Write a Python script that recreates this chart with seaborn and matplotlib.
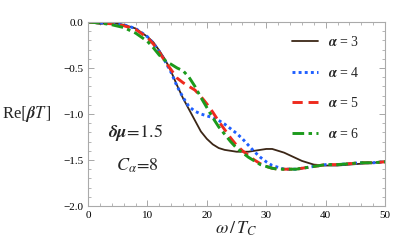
import numpy as np
import pandas as pd
import matplotlib
matplotlib.use("Agg")
import matplotlib.pyplot as plt
import seaborn as sns
from matplotlib.ticker import MultipleLocator

# values
omega = [0, 2, 4, 6, 8, 10, 11, 12, 13, 14, 15, 16, 17, 18, 19, 20, 21, 22, 23, 24,
         25, 26, 27, 28, 29, 30, 31, 32, 33, 34, 35, 36, 38, 40, 42, 44, 46, 48, 50]

re_a3 = [0.0, -0.02, -0.01, -0.03, -0.07, -0.16, -0.22, -0.31, -0.41, -0.54, -0.69, -0.83,
         -0.95, -1.07, -1.19, -1.27, -1.33, -1.37, -1.39, -1.40, -1.41, -1.41, -1.41, -1.40,
         -1.39, -1.38, -1.38, -1.40, -1.42, -1.45, -1.48, -1.51, -1.55, -1.56, -1.56, -1.55,
         -1.54, -1.53, -1.52]
re_a4 = [0.0, -0.01, -0.01, -0.03, -0.07, -0.16, -0.23, -0.32, -0.43, -0.55, -0.70, -0.82,
         -0.92, -0.97, -1.00, -1.02, -1.04, -1.07, -1.11, -1.16, -1.21, -1.27, -1.34, -1.41,
         -1.47, -1.52, -1.56, -1.58, -1.60, -1.60, -1.60, -1.59, -1.57, -1.55, -1.55, -1.54,
         -1.53, -1.53, -1.52]
re_a5 = [0.0, -0.01, -0.02, -0.04, -0.08, -0.17, -0.24, -0.33, -0.43, -0.52, -0.61, -0.66,
         -0.70, -0.74, -0.81, -0.89, -0.98, -1.08, -1.17, -1.26, -1.34, -1.40, -1.45, -1.50,
         -1.54, -1.57, -1.59, -1.60, -1.60, -1.60, -1.60, -1.59, -1.57, -1.55, -1.55, -1.54,
         -1.53, -1.53, -1.52]
re_a6 = [0.0, -0.01, -0.03, -0.06, -0.12, -0.21, -0.28, -0.36, -0.42, -0.46, -0.50, -0.53,
         -0.60, -0.70, -0.82, -0.93, -1.04, -1.14, -1.22, -1.30, -1.37, -1.42, -1.47, -1.51,
         -1.55, -1.57, -1.59, -1.60, -1.60, -1.60, -1.60, -1.59, -1.57, -1.55, -1.55, -1.54,
         -1.53, -1.53, -1.52]

alphas = [3, 4, 5, 6]
series = [re_a3, re_a4, re_a5, re_a6]
colors = ["#3b2616", "#1f5fff", "#ee2a1e", "#1c9a1c"]
dashes = ["-", (0, (1, 1.1)), (0, (3.5, 2)), (0, (4, 1.5, 1.2, 1.5))]

sns.set_theme(style="ticks")
plt.rcParams["font.family"] = ["Liberation Serif", "DejaVu Serif"]
plt.rcParams["mathtext.fontset"] = "stix"

fig, ax = plt.subplots(figsize=(4.15, 2.5), dpi=100)
fig.subplots_adjust(left=0.212, right=0.928, top=0.912, bottom=0.176)

for a, vals, c, ls in zip(alphas, series, colors, dashes):
    df = pd.DataFrame({"omega": omega, "re": vals})
    lw = 1.3 if a == 3 else 2.1
    sns.lineplot(data=df, x="omega", y="re", ax=ax, color=c, linewidth=lw,
                 label=rf"$\mathbfit{{\alpha}}$ = {a}")
    ax.lines[-1].set_linestyle(ls)

ax.set_xlim(0, 50)
ax.set_ylim(-2.0, 0.0)
ax.xaxis.set_major_locator(MultipleLocator(10))
ax.xaxis.set_minor_locator(MultipleLocator(2))
ax.yaxis.set_major_locator(MultipleLocator(0.5))
ax.yaxis.set_minor_locator(MultipleLocator(0.1))
ax.yaxis.set_major_formatter(matplotlib.ticker.FuncFormatter(
    lambda v, p: f"{v:.1f}".replace("-", "\u2212")))
ax.tick_params(which="both", direction="in", top=True, right=True, colors="#999999",
               labelcolor="black", labelsize=8)
ax.tick_params(which="major", length=4, width=0.6)
ax.tick_params(which="minor", length=2, width=0.5)
for s in ax.spines.values():
    s.set_color("#aaaaaa")
    s.set_linewidth(0.8)

ax.set_xlabel(r"$\omega\,/\,T_C$", fontsize=13, labelpad=0)
ax.set_ylabel(r"Re$[\mathbfit{\beta}T\,]$", fontsize=12, rotation=0)
ax.yaxis.set_label_coords(-0.205, 0.445)

ax.text(0.16, 0.40, r"$\mathbfit{\delta\mu}\!=\!1.5$", transform=ax.transAxes, fontsize=13,
        ha="center", va="center")
ax.text(0.165, 0.22, r"$C_{\alpha}\!=\!8$", transform=ax.transAxes, fontsize=13,
        ha="center", va="center")

leg = ax.legend(loc="upper left", bbox_to_anchor=(0.685, 0.93), frameon=False,
                fontsize=10, handlelength=1.9, labelspacing=1.2, borderaxespad=0,
                borderpad=0, handletextpad=0.7)

fig.savefig("out.png", dpi=100)
